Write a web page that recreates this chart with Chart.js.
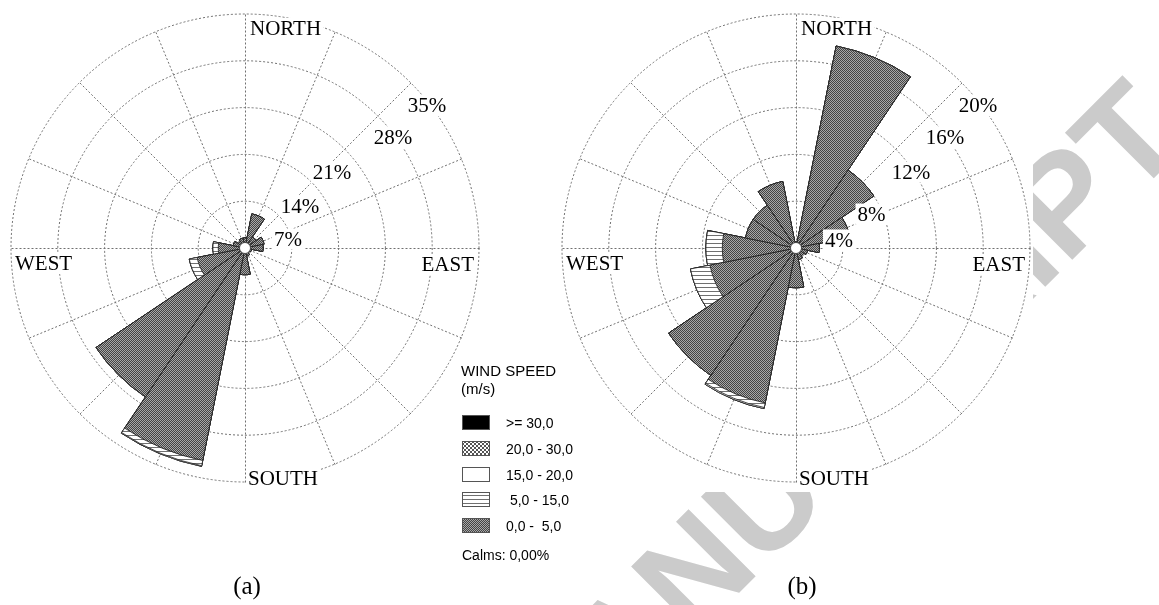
<!DOCTYPE html>
<html>
<head>
<meta charset="utf-8">
<script src="https://cdn.jsdelivr.net/npm/chart.js@4.4.0/dist/chart.umd.min.js"></script>
<style>
  html, body { margin: 0; padding: 0; background: #fff; }
  body { width: 1159px; height: 605px; position: relative; overflow: hidden; }
  #wm { position: absolute; left: 0; top: 0; }
  #maskB { position: absolute; left: 556px; top: 0; width: 477px; height: 492px; background: #fff; }
  .rose { position: absolute; }
  #roseA { left: 5px; top: 8px; }
  #roseB { left: 556px; top: 8px; }
  #legend { position: absolute; left: 455px; top: 352px; }
  .cap { position: absolute; top: 573px; width: 100px; text-align: center;
         font: 25px/25px "Liberation Serif", serif; color: #000; }
</style>
</head>
<body>
<canvas id="wm" width="1159" height="605"></canvas>
<div id="maskB"></div>
<canvas id="roseA" class="rose" width="480" height="480"></canvas>
<canvas id="roseB" class="rose" width="480" height="480"></canvas>
<canvas id="legend" width="130" height="220"></canvas>
<div class="cap" style="left:197px">(a)</div>
<div class="cap" style="left:752px">(b)</div>

<script>
// ---- data -------------------------------------------------------------
const directions = ['N', 'NNE', 'NE', 'ENE', 'E', 'ESE', 'SE', 'SSE',
                    'S', 'SSW', 'SW', 'WSW', 'W', 'WNW', 'NW', 'NNW'];
const compassLabels = ['NORTH', 'EAST', 'SOUTH', 'WEST'];
const speedClasses = ['0,0 -  5,0', ' 5,0 - 15,0', '15,0 - 20,0', '20,0 - 30,0', '>= 30,0'];
const legendTitle = ['WIND SPEED', '(m/s)'];
const calmsText = 'Calms: 0,00%';

// rose (a): frequency (%) per direction for each speed class
const a_0_5   = [1.5, 5.2, 2.0, 2.9, 2.7, 1.0, 0.8, 1.2, 4.0, 32.4, 26.8, 7.3, 4.0, 1.8, 1.2, 1.5];
const a_5_15  = [0, 0, 0, 0, 0, 0, 0, 0, 0, 0.8, 0, 1.2, 0.8, 0, 0, 0];
const a_15_20 = [0, 0, 0, 0, 0, 0, 0, 0, 0, 0.1, 0, 0, 0, 0, 0, 0];
const a_20_30 = [0, 0, 0, 0, 0, 0, 0, 0, 0, 0, 0, 0, 0, 0, 0, 0];
const a_30    = [0, 0, 0, 0, 0, 0, 0, 0, 0, 0, 0, 0, 0, 0, 0, 0];

// rose (b)
const b_0_5   = [0.5, 17.6, 8.0, 4.7, 2.0, 1.0, 0.8, 1.0, 3.4, 13.5, 13.1, 7.5, 6.3, 4.4, 4.4, 5.8];
const b_5_15  = [0, 0, 0, 0, 0, 0, 0, 0, 0, 0.4, 0, 1.7, 1.4, 0, 0, 0];
const b_15_20 = [0, 0, 0, 0, 0, 0, 0, 0, 0, 0.1, 0, 0, 0, 0, 0, 0];
const b_20_30 = [0, 0, 0, 0, 0, 0, 0, 0, 0, 0, 0, 0, 0, 0, 0, 0];
const b_30    = [0, 0, 0, 0, 0, 0, 0, 0, 0, 0, 0, 0, 0, 0, 0, 0];

// radial ticks
const ticksA = [7, 14, 21, 28, 35];
const ticksB = [4, 8, 12, 16, 20];

// ---- fills ------------------------------------------------------------
function makePattern(kind) {
  const c = document.createElement('canvas');
  const g = c.getContext('2d');
  if (kind === 'checker') {
    c.width = 2; c.height = 2;
    g.fillStyle = '#a8a8a8'; g.fillRect(0, 0, 2, 2);
    g.fillStyle = '#444444'; g.fillRect(0, 0, 1, 1); g.fillRect(1, 1, 1, 1);
  } else if (kind === 'hstripe') {
    c.width = 4; c.height = 4;
    g.fillStyle = '#ffffff'; g.fillRect(0, 0, 4, 4);
    g.fillStyle = '#707070'; g.fillRect(0, 3, 4, 1);
  } else if (kind === 'cross') {
    c.width = 4; c.height = 4;
    g.fillStyle = '#ffffff'; g.fillRect(0, 0, 4, 4);
    g.fillStyle = '#555555';
    for (let i = 0; i < 4; i++) { g.fillRect(i, i, 1, 1); g.fillRect(3 - i, i, 1, 1); }
  }
  return g.createPattern(c, 'repeat');
}
const fills = [makePattern('checker'), makePattern('hstripe'), '#ffffff', makePattern('cross'), '#000000'];

// stacked rings: each class is drawn as the cumulative total up to that class,
// inner classes come first in the dataset list so they are painted on top
function roseDatasets(classes) {
  let running = directions.map(() => 0);
  return classes.map((arr, k) => {
    running = running.map((v, i) => v + arr[i]);
    return {
      label: speedClasses[k],
      data: running.slice(),
      backgroundColor: fills[k],
      borderColor: '#1c1c1c',
      borderWidth: 0.8
    };
  });
}

// ---- decorations drawn around the polar scale ---------------------------
const roseDecor = {
  id: 'roseDecor',
  beforeDatasetsDraw(chart) {
    const s = chart.scales.r, ctx = chart.ctx;
    ctx.save();
    ctx.strokeStyle = '#707070';
    ctx.lineWidth = 1;
    ctx.setLineDash([2, 2]);
    for (let k = 0; k < directions.length; k++) {
      const ang = (k * 360 / directions.length - 90) * Math.PI / 180;
      ctx.beginPath();
      ctx.moveTo(s.xCenter + 0.5, s.yCenter + 0.5);
      ctx.lineTo(s.xCenter + 0.5 + Math.cos(ang) * s.drawingArea,
                 s.yCenter + 0.5 + Math.sin(ang) * s.drawingArea);
      ctx.stroke();
    }
    ctx.restore();
  },
  afterDatasetsDraw(chart, args, opts) {
    const s = chart.scales.r, ctx = chart.ctx;
    const cx = s.xCenter, cy = s.yCenter;
    ctx.save();
    // hub
    ctx.beginPath();
    ctx.arc(cx, cy, 5.5, 0, Math.PI * 2);
    ctx.fillStyle = '#fff'; ctx.fill();
    ctx.lineWidth = 0.8; ctx.strokeStyle = '#333'; ctx.stroke();

    ctx.font = '21px "Liberation Serif", serif';
    ctx.textBaseline = 'alphabetic';
    const label = (text, x, y, align) => {
      const w = ctx.measureText(text).width;
      const left = align === 'right' ? x - w : (align === 'center' ? x - w / 2 : x);
      ctx.fillStyle = '#fff';
      ctx.fillRect(left - 2, y - 17, w + 4, 21);
      ctx.fillStyle = '#000';
      ctx.textAlign = 'left';
      ctx.fillText(text, left, y);
    };
    // compass names
    label(compassLabels[0], cx + 5, cy - 213, 'left');
    label(compassLabels[1], cx + 229, cy + 23, 'right');
    label(compassLabels[2], cx + 3, cy + 237, 'left');
    label(compassLabels[3], cx - 230, cy + 22, 'left');
    // ring values
    opts.ticks.forEach((t, i) => {
      const [dx, dy] = opts.offsets[i];
      label(t + '%', cx + dx, cy + dy + 7, 'center');
    });
    ctx.restore();
  }
};

function buildRose(id, classes, ticks, offsets) {
  return new Chart(document.getElementById(id), {
    type: 'polarArea',
    data: { labels: directions, datasets: roseDatasets(classes) },
    options: {
      responsive: false,
      animation: false,
      layout: { padding: 6 },
      plugins: {
        legend: { display: false },
        tooltip: { enabled: false },
        roseDecor: { ticks: ticks, offsets: offsets }
      },
      scales: {
        r: {
          min: 0,
          max: ticks[ticks.length - 1],
          startAngle: -180 / directions.length,
          ticks: { display: false, stepSize: ticks[0] },
          grid: { color: '#707070', lineWidth: 1 },
          border: { dash: [2, 2] },
          angleLines: { display: false },
          pointLabels: { display: false }
        }
      }
    },
    plugins: [roseDecor]
  });
}

// label centres relative to the rose centre
const ringLabelOffsetsA = [[43, -9.5], [55, -42], [87, -76], [148, -111], [182, -143]];
const ringLabelOffsetsB = [[43, -8.5], [75.5, -34.5], [115, -76.5], [149, -111], [182, -143]];

buildRose('roseA', [a_0_5, a_5_15, a_15_20, a_20_30, a_30], ticksA, ringLabelOffsetsA);
buildRose('roseB', [b_0_5, b_5_15, b_15_20, b_20_30, b_30], ticksB, ringLabelOffsetsB);

// ---- legend -------------------------------------------------------------
(function drawLegend() {
  const ctx = document.getElementById('legend').getContext('2d');
  ctx.fillStyle = '#000';
  ctx.font = '15px "Liberation Sans", Arial, sans-serif';
  ctx.fillText(legendTitle[0], 6, 24);
  ctx.fillText(legendTitle[1], 6, 42);
  ctx.font = '14px "Liberation Sans", Arial, sans-serif';
  for (let row = 0; row < speedClasses.length; row++) {
    const k = speedClasses.length - 1 - row;
    const top = Math.round(63 + row * 25.8);
    ctx.fillStyle = fills[k];
    ctx.fillRect(7, top, 28, 15);
    ctx.strokeStyle = '#555';
    ctx.lineWidth = 1;
    ctx.strokeRect(7.5, top + 0.5, 27, 14);
    ctx.fillStyle = '#000';
    ctx.fillText(speedClasses[k], 51, top + 13);
  }
  ctx.fillText(calmsText, 7, 208);
})();

// ---- background stamp ------------------------------------------------------
(function drawStamp() {
  const ctx = document.getElementById('wm').getContext('2d');
  ctx.save();
  ctx.translate(540, 792);
  ctx.rotate(-Math.PI / 4);
  ctx.font = 'bold 138px "Liberation Sans", Arial, sans-serif';
  ctx.fillStyle = '#cbcbcb';
  ctx.fillText('MANUSCRIPT', 0, 0);
  ctx.restore();
})();
</script>
</body>
</html>
